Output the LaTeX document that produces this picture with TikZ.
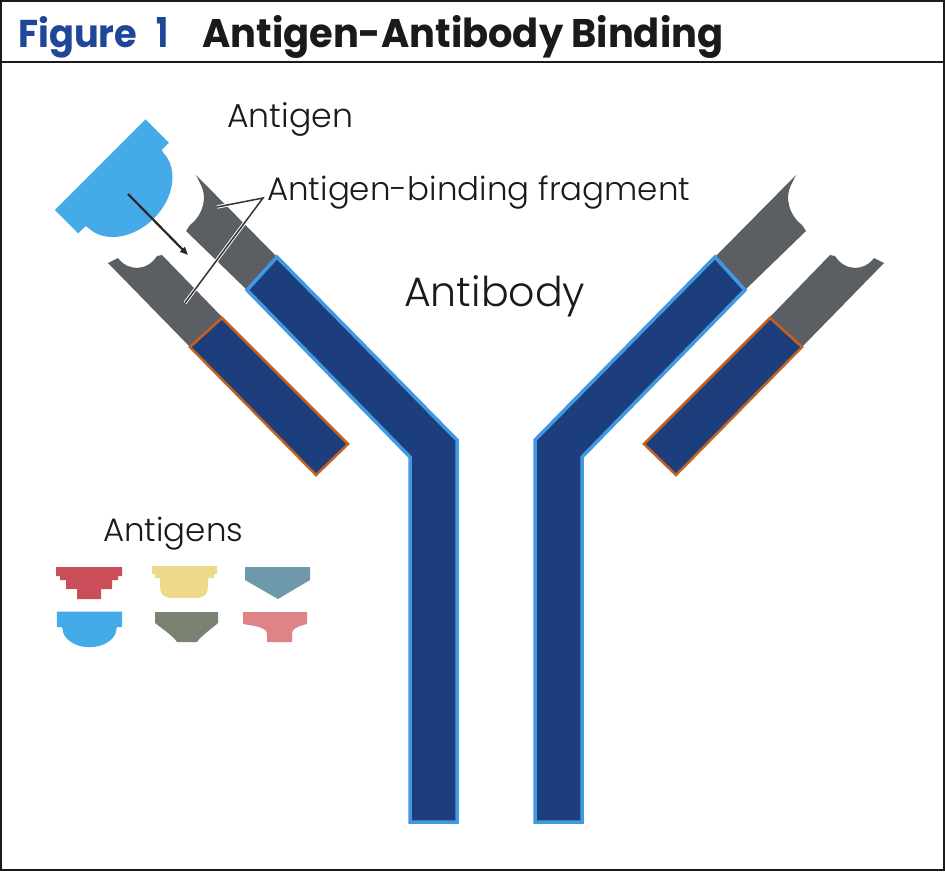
\documentclass[tikz,border=0pt]{standalone}
\usepackage{fontspec}
\setmainfont{Poppins}
\newfontfamily\lightfont{Poppins Light}
\usepackage{graphicx}
\usetikzlibrary{arrows.meta}
\definecolor{hblue}{HTML}{1D3E7D}
\definecolor{hedge}{HTML}{4199E2}
\definecolor{fgray}{HTML}{5B5F63}
\definecolor{lorange}{HTML}{C2621C}
\definecolor{agblue}{HTML}{45AAE8}
\definecolor{titleblue}{HTML}{1F4697}
\definecolor{agred}{HTML}{C94E59}
\definecolor{agyellow}{HTML}{EDD88B}
\definecolor{agteal}{HTML}{6E99AB}
\definecolor{agolive}{HTML}{7A8371}
\definecolor{agpink}{HTML}{DF8486}
\definecolor{txt}{HTML}{1A1A1A}
\newcommand\abarm{%
  \path[fab] (247,290) -- (277,257) -- (196,175) -- (201,185) .. controls (207,197) and (204,214) .. (190,225) -- (186,231) -- cycle;
  \path[fab] (190,347) -- (108,263) -- (118,258) .. controls (127,271) and (147,272) .. (157,256) -- (162,255) -- (223,318) -- cycle;
  \path[heavy] (277,257) -- (457,440) -- (457,822) -- (410,822) -- (410,457) -- (247,290) -- cycle;
  \path[light] (190,347) -- (222,318) -- (348,444) -- (316,475) -- cycle;
}
\newcommand\agbowl[1]{%
  \fill[#1] (-64,-33) -- (64,-33) -- (64,0) -- (54,0) -- (53,3) .. controls (53,25) and (29,43) .. (0,43) .. controls (-29,43) and (-53,25) .. (-53,3) -- (-54,0) -- (-64,0) -- cycle;
}
\begin{document}
\begin{tikzpicture}[x=1pt,y=-1pt,
  heavy/.style={fill=hblue,draw=hedge,line width=3.5pt,line join=miter},
  fab/.style={fill=fgray},
  light/.style={fill=hblue,draw=lorange,line width=2.5pt,line join=miter},
  lbl/.style={inner sep=0pt,anchor=base west,text=txt,font=\lightfont},
  ttl/.style={inner sep=0pt,anchor=base west,text=txt},
  frame/.style={draw=txt,line width=2pt},
  halo/.style={white,line width=3.4pt},
  leader/.style={draw=black!80,line width=1.5pt}]
\useasboundingbox (0,0) rectangle (945,871);
\fill[white] (0,0) rectangle (945,871);
\draw[frame] (1,1) rectangle (944,870);
\draw[frame] (1,62) -- (944,62);
% title
\node[ttl] (fig) at (18,47) {\resizebox{119pt}{31pt}{\bfseries\color{titleblue}Figure}};
\node[ttl] (fignum) at (156,47) {\resizebox{12pt}{30pt}{\bfseries\color{titleblue}1}};
\node[ttl] (title) at (202,47) {\resizebox{521pt}{32pt}{\bfseries Antigen-Antibody Binding}};
% antibody arms
\begin{scope}
  \abarm
\end{scope}
\begin{scope}[shift={(992,0)},xscale=-1]
  \abarm
\end{scope}
% bound antigen
\begin{scope}[shift={(123.5,188)}]
  \begin{scope}[x={(0.7071pt,0.7071pt)},y={(0.7071pt,-0.7071pt)}]
    \agbowl{agblue}
  \end{scope}
\end{scope}
\coordinate (agc) at (128,194);
\coordinate (site) at (188,255);
\draw[-{Triangle[length=8pt,width=6.5pt]},line width=2.2pt,black!85] (agc) -- (site);
% leader lines
\coordinate (jn) at (263,198);
\coordinate (fabA) at (217,207);
\coordinate (fabB) at (185,303);
\draw[halo] (fabA) -- (jn) -- (fabB);
\draw[leader] (fabA) -- (jn) -- (fabB);
% labels
\node[lbl] (antigenlbl) at (227,127) {\resizebox{126pt}{!}{Antigen}};
\node[lbl] (fablbl) at (267,200) {\resizebox{423pt}{!}{Antigen-binding fragment}};
\node[lbl] (ablbl) at (404,306) {\resizebox{181pt}{!}{Antibody}};
\node[lbl] (agslbl) at (103,541) {\resizebox{140pt}{!}{Antigens}};
% legend antigens
\fill[agred] (56,567) -- (122,567) -- (122,576) -- (118,576) -- (118,580) -- (112,580) -- (112,589) -- (101,589) -- (101,599) -- (77,599) -- (77,589) -- (66,589) -- (66,580) -- (60,580) -- (60,576) -- (56,576) -- cycle;
\fill[agyellow] (152,566) -- (217,566) -- (217,574) -- (214,574) -- (214,578) -- (208,578) -- (208,587) .. controls (208,594) and (204,598) .. (196,598) -- (172,598) .. controls (164,598) and (160,594) .. (160,587) -- (160,578) -- (155,578) -- (155,574) -- (152,574) -- cycle;
\fill[agteal] (245,567) -- (310,567) -- (310,580) -- (278,599) -- (245,580) -- cycle;
\begin{scope}[shift={(89.5,627)}]
  \begin{scope}[xscale=0.51,yscale=0.47]
    \agbowl{agblue}
  \end{scope}
\end{scope}
\fill[agolive] (155,612) -- (218,612) -- (218,623) .. controls (210,630) and (201,636) .. (197,642) -- (177,642) .. controls (173,636) and (164,630) .. (155,623) -- cycle;
\fill[agpink] (243,612) -- (307,612) -- (307,624) -- (300,626) .. controls (295,628) and (292,630) .. (292,634) -- (292,642) -- (267,642) -- (267,634) .. controls (267,630) and (263,628) .. (255,626) -- (243,624) -- cycle;
\end{tikzpicture}
\end{document}
